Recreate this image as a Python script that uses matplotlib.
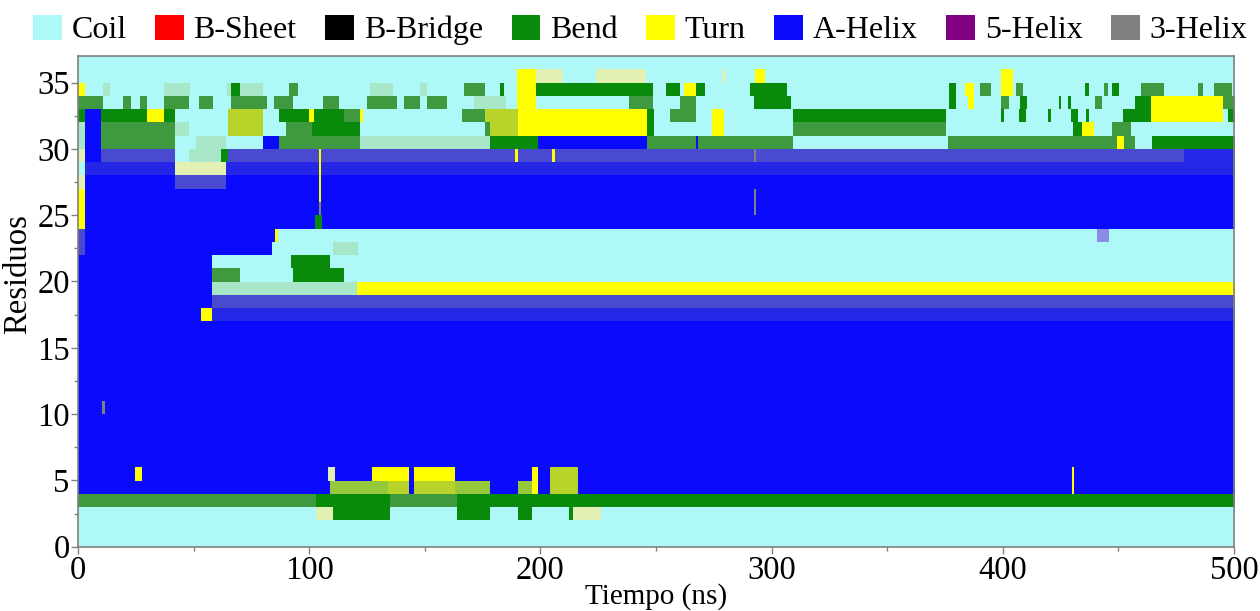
import numpy as np
import matplotlib.pyplot as plt
from matplotlib.colors import ListedColormap
from matplotlib.patches import Patch

# estados DSSP (leyenda) y colores
state_names = ['Coil', 'B-Sheet', 'B-Bridge', 'Bend', 'Turn', 'A-Helix', '5-Helix', '3-Helix']
state_codes = ['C', 'E', 'B', 'S', 'T', 'H', 'I', 'G']
state_colors = ['#aef8f8', '#ff0000', '#000000', '#0a8a0a', '#ffff00', '#0a0aff', '#800080', '#808080']
# zonas con rayas finas mezcladas (se ven como tonos intermedios)
mix_codes = ['g', 'c', 'y', 'h', 'k', 'p', 'l', 'v']
mix_colors = ['#3f9a3f', '#a8e6c8', '#b8d42a', '#4a4ad0', '#2626e6', '#e2f0b4', '#96c83c', '#8c8ce6']

t_max = 500
n_res = 37

# segmentos (inicio ns, fin ns, estado) por residuo
res00 = [(0, 500, 'C')]
res01 = [(0, 500, 'C')]
res02 = [(0, 103, 'C'), (103, 110, 'p'), (110, 135, 'S'), (135, 164, 'C'), (164, 178, 'S'),
         (178, 190, 'C'), (190, 196, 'S'), (196, 212, 'C'), (212, 214, 'S'), (214, 226, 'p'),
         (226, 500, 'C')]
res03 = [(0, 103, 'g'), (103, 135, 'S'), (135, 164, 'g'), (164, 500, 'S')]
res04 = [(0, 109, 'H'), (109, 134, 'l'), (134, 143, 'y'), (143, 145, 'H'), (145, 163, 'y'),
         (163, 178, 'l'), (178, 190, 'H'), (190, 196, 'l'), (196, 199, 'T'), (199, 204, 'H'),
         (204, 216, 'y'), (216, 429.5, 'H'), (429.5, 430.5, 'T'), (430.5, 500, 'H')]
res05 = [(0, 24.5, 'H'), (24.5, 27.5, 'T'), (27.5, 108, 'H'), (108, 111, 'p'), (111, 127, 'H'),
         (127, 143, 'T'), (143, 145, 'H'), (145, 163, 'T'), (163, 196, 'H'), (196, 199, 'T'),
         (199, 204, 'H'), (204, 216, 'y'), (216, 429.5, 'H'), (429.5, 430.5, 'T'), (430.5, 500, 'H')]
res06 = [(0, 500, 'H')]
res07 = [(0, 500, 'H')]
res08 = [(0, 500, 'H')]
res09 = [(0, 500, 'H')]
res10 = [(0, 10.5, 'H'), (10.5, 11.5, 'G'), (11.5, 500, 'H')]
res11 = [(0, 500, 'H')]
res12 = [(0, 500, 'H')]
res13 = [(0, 500, 'H')]
res14 = [(0, 500, 'H')]
res15 = [(0, 500, 'H')]
res16 = [(0, 500, 'H')]
res17 = [(0, 52.8, 'H'), (52.8, 58, 'T'), (58, 500, 'k')]
res18 = [(0, 58, 'H'), (58, 500, 'h')]
res19 = [(0, 58, 'H'), (58, 120.7, 'c'), (120.7, 500, 'T')]
res20 = [(0, 58, 'H'), (58, 70, 'g'), (70, 93, 'C'), (93, 115, 'S'), (115, 500, 'C')]
res21 = [(0, 58, 'H'), (58, 92, 'C'), (92, 109, 'S'), (109, 500, 'C')]
res22 = [(0, 3, 'h'), (3, 84, 'H'), (84, 110, 'C'), (110, 121, 'c'), (121, 500, 'C')]
res23 = [(0, 3, 'h'), (3, 85, 'H'), (85, 86.5, 'T'), (86.5, 440.5, 'C'), (440.5, 445.5, 'v'),
         (445.5, 500, 'C')]
res24 = [(0, 3, 'T'), (3, 102.5, 'H'), (102.5, 105.5, 'S'), (105.5, 500, 'H')]
res25 = [(0, 3, 'T'), (3, 104, 'H'), (104, 105, 'G'), (105, 292, 'H'), (292, 293, 'G'), (293, 500, 'H')]
res26 = [(0, 3, 'T'), (3, 104, 'H'), (104, 105, 'T'), (105, 292, 'H'), (292, 293, 'G'), (293, 500, 'H')]
res27 = [(0, 3, 'p'), (3, 42, 'H'), (42, 64, 'h'), (64, 104, 'H'), (104, 105, 'T'), (105, 500, 'H')]
res28 = [(0, 3, 'C'), (3, 42, 'k'), (42, 64, 'p'), (64, 104, 'k'), (104, 105, 'T'), (105, 500, 'k')]
res29 = [(0, 3, 'p'), (3, 10, 'H'), (10, 42, 'h'), (42, 48, 'C'), (48, 62, 'c'), (62, 65, 'S'),
         (65, 104, 'h'), (104, 105, 'T'), (105, 189, 'h'), (189, 190, 'T'), (190, 205, 'h'),
         (205, 206, 'T'), (206, 292, 'h'), (292, 293, 'G'), (293, 478, 'h'), (478, 500, 'k')]
res30 = [(0, 3, 'c'), (3, 10, 'H'), (10, 42, 'g'), (42, 51, 'C'), (51, 64, 'c'), (64, 80, 'C'),
         (80, 87, 'H'), (87, 122, 'g'), (122, 178, 'c'), (178, 199, 'S'), (199, 246, 'H'),
         (246, 267, 'g'), (267, 268, 'H'), (268, 309, 'g'), (309, 376, 'C'), (376, 449, 'g'),
         (449, 452, 'T'), (452, 457, 'g'), (457, 464, 'C'), (464, 500, 'S')]
res31 = [(0, 3, 'c'), (3, 10, 'H'), (10, 42, 'g'), (42, 48, 'c'), (48, 65, 'C'), (65, 80, 'y'),
         (80, 90, 'C'), (90, 101, 'g'), (101, 122, 'S'), (122, 176, 'C'), (176, 178, 'g'),
         (178, 190, 'y'), (190, 246, 'T'), (246, 249, 'S'), (249, 274, 'C'), (274, 279, 'T'),
         (279, 309, 'C'), (309, 375, 'g'), (375, 430, 'C'), (430, 434, 'S'), (434, 439, 'T'),
         (439, 447, 'C'), (447, 455, 'g'), (455, 500, 'C')]
res32 = [(0, 3, 'S'), (3, 10, 'H'), (10, 30, 'S'), (30, 37, 'T'), (37, 42, 'S'), (42, 65, 'C'),
         (65, 80, 'y'), (80, 87, 'C'), (87, 100, 'S'), (100, 102, 'T'), (102, 115, 'S'),
         (115, 122, 'g'), (122, 123, 'T'), (123, 166, 'C'), (166, 176, 'g'), (176, 190, 'y'),
         (190, 246, 'T'), (246, 249, 'S'), (249, 256, 'C'), (256, 267, 'g'), (267, 274, 'C'),
         (274, 279, 'T'), (279, 309, 'C'), (309, 375, 'S'), (375, 398.8, 'C'), (398.8, 400.2, 'S'),
         (400.2, 406.7, 'C'), (406.7, 409.6, 'S'), (409.6, 419, 'C'), (419, 420.4, 'S'),
         (420.4, 429, 'C'), (429, 432, 'S'), (432, 435.5, 'C'), (435.5, 437, 'S'), (437, 451.4, 'C'),
         (451.4, 463.5, 'S'), (463.5, 495, 'T'), (495, 497, 'C'), (497, 500, 'S')]
res33 = [(0, 11, 'g'), (11, 19.5, 'C'), (19.5, 23, 'g'), (23, 27, 'C'), (27, 30, 'g'), (30, 37, 'C'),
         (37, 48, 'g'), (48, 52.6, 'C'), (52.6, 58.4, 'g'), (58.4, 66, 'C'), (66, 81.6, 'g'),
         (81.6, 84.5, 'C'), (84.5, 93, 'g'), (93, 106, 'C'), (106, 113, 'g'), (113, 125, 'C'),
         (125, 138, 'g'), (138, 141, 'C'), (141, 148, 'g'), (148, 151, 'C'), (151, 159.5, 'g'),
         (159.5, 171, 'C'), (171, 185, 'c'), (185, 189.5, 'C'), (189.5, 198, 'T'), (198, 238, 'C'),
         (238, 248.6, 'g'), (248.6, 260, 'C'), (260, 267, 'g'), (267, 292, 'C'), (292, 308, 'S'),
         (308, 376.4, 'C'), (376.4, 379.3, 'S'), (379.3, 384.3, 'C'), (384.3, 387.2, 'T'),
         (387.2, 398.8, 'C'), (398.8, 402.4, 'g'), (402.4, 407, 'C'), (407, 410, 'S'),
         (410, 424, 'C'), (424, 425, 'S'), (425, 428, 'C'), (428, 429, 'S'), (429, 439.6, 'C'),
         (439.6, 442.5, 'g'), (442.5, 457, 'C'), (457, 463.5, 'S'), (463.5, 495, 'T'), (495, 500, 'g')]
res34 = [(0, 3, 'T'), (3, 11, 'C'), (11, 14, 'c'), (14, 37, 'C'), (37, 48.4, 'c'), (48.4, 64.3, 'C'),
         (64.3, 66, 'c'), (66, 70, 'S'), (70, 80.2, 'c'), (80.2, 90.8, 'C'), (90.8, 95.2, 'g'),
         (95.2, 126, 'C'), (126, 136, 'c'), (136, 148, 'C'), (148, 151, 'c'), (151, 167, 'C'),
         (167, 176, 'g'), (176, 182.5, 'C'), (182.5, 184, 'S'), (184, 189.5, 'C'), (189.5, 198, 'T'),
         (198, 248.6, 'S'), (248.6, 254, 'C'), (254, 260, 'S'), (260, 262, 'C'), (262, 267, 'T'),
         (267, 271, 'S'), (271, 290.5, 'C'), (290.5, 306.5, 'S'), (306.5, 376.4, 'C'),
         (376.4, 379.3, 'S'), (379.3, 383.7, 'C'), (383.7, 387.2, 'T'), (387.2, 390, 'C'),
         (390, 394.6, 'g'), (394.6, 398.8, 'C'), (398.8, 403.8, 'T'), (403.8, 405.7, 'C'),
         (405.7, 408.6, 'g'), (408.6, 434.9, 'C'), (434.9, 437, 'S'), (437, 443.5, 'C'),
         (443.5, 445, 'g'), (445, 447, 'C'), (447, 450, 'S'), (450, 459.6, 'C'), (459.6, 469.7, 'g'),
         (469.7, 484, 'C'), (484, 486, 'g'), (486, 491, 'C'), (491, 498.5, 'g'), (498.5, 500, 'C')]
res35 = [(0, 189.5, 'C'), (189.5, 198, 'T'), (198, 209.5, 'p'), (209.5, 224, 'C'), (224, 245.7, 'p'),
         (245.7, 278.5, 'C'), (278.5, 279.5, 'p'), (279.5, 292.6, 'C'), (292.6, 297, 'T'),
         (297, 398.8, 'C'), (398.8, 403.8, 'T'), (403.8, 500, 'C')]
res36 = [(0, 500, 'C')]

residues = [res00, res01, res02, res03, res04, res05, res06, res07, res08, res09,
            res10, res11, res12, res13, res14, res15, res16, res17, res18, res19,
            res20, res21, res22, res23, res24, res25, res26, res27, res28, res29,
            res30, res31, res32, res33, res34, res35, res36]

all_codes = state_codes + mix_codes
all_colors = state_colors + mix_colors
dt = 0.5
n_t = int(t_max / dt)
grid = np.zeros((n_res, n_t), dtype=int)
for r, segs in enumerate(residues):
    for t0, t1, code in segs:
        grid[r, int(round(t0 / dt)):int(round(t1 / dt))] = all_codes.index(code)

plt.rcParams['font.family'] = ['Liberation Serif', 'DejaVu Serif']
fig = plt.figure(figsize=(12.6, 6.11), dpi=100)
ax = fig.add_axes([0.0619, 0.1052, 0.9175, 0.8031])

cmap = ListedColormap(all_colors)
ax.imshow(grid, aspect='auto', origin='lower', extent=(0, t_max, 0, n_res),
          cmap=cmap, vmin=-0.5, vmax=len(all_colors) - 0.5, interpolation='nearest')

ax.set_xlim(0, 500)
ax.set_ylim(0, 37)
ax.set_xticks(np.arange(0, 501, 100))
ax.set_xticks(np.arange(50, 500, 100), minor=True)
ax.set_yticks(np.arange(0, 36, 5))
ax.set_yticks(np.arange(2.5, 37, 5), minor=True)
ax.tick_params(which='major', direction='out', length=5, width=1, color='#808080',
               labelsize=23.5, pad=1)
ax.tick_params(which='minor', direction='out', length=3, width=1, color='#808080')
for sp in ax.spines.values():
    sp.set_color('#808080')
    sp.set_linewidth(1.2)

ax.set_xlabel('Tiempo (ns)', fontsize=21)
ax.set_ylabel('Residuos', fontsize=23.5)
ax.xaxis.set_label_coords(0.5, -0.075)
ax.yaxis.set_label_coords(-0.039, 0.555)

handles = [Patch(facecolor=c, edgecolor='none', label=n) for n, c in zip(state_names, state_colors)]
fig.legend(handles=handles, loc='center', bbox_to_anchor=(0.508, 0.951), ncol=8, frameon=False,
           fontsize=23, handlelength=0.9, handleheight=0.85, handletextpad=0.3, columnspacing=0.9,
           borderaxespad=0)

fig.savefig('out.png', dpi=100)
